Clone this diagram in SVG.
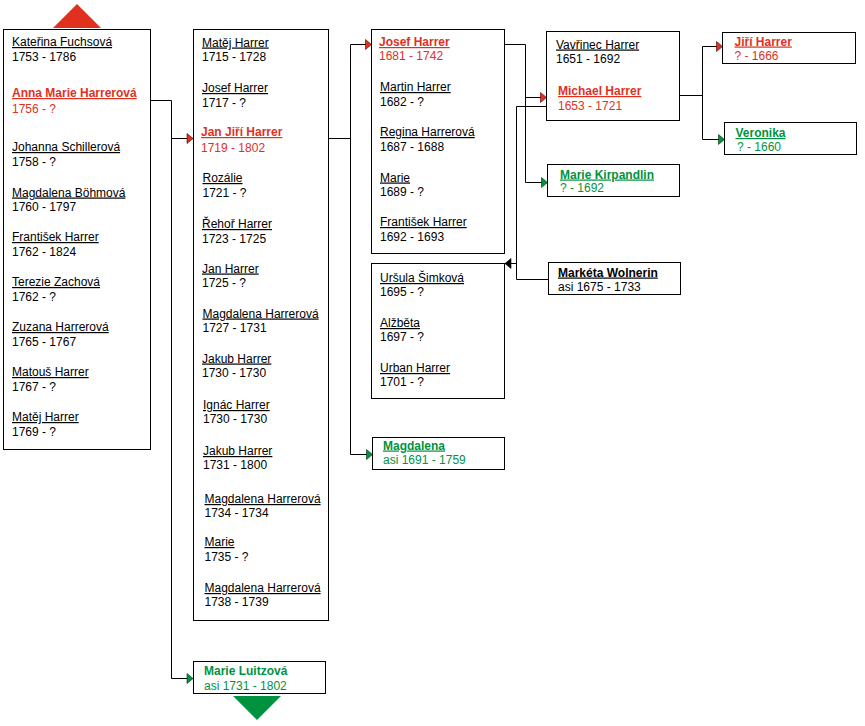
<svg xmlns="http://www.w3.org/2000/svg" width="865" height="726" viewBox="0 0 865 726">
<style>
.box{fill:#fff;stroke:#000;stroke-width:1}
text{font-family:"Liberation Sans",Arial,sans-serif;font-size:12px;fill:#000}
.u{text-decoration:underline}
.b{font-weight:bold}
.r{fill:#e0301e}
.g{fill:#00923f}
.ln{fill:none;stroke:#000;stroke-width:1}
</style>
<defs>
<marker id="aRed" markerUnits="userSpaceOnUse" markerWidth="7" markerHeight="11" refX="6" refY="5" orient="auto" viewBox="0 0 7 11" overflow="visible"><path d="M0,0 L6,5 L0,10 Z" fill="#e0301e" stroke="#400" stroke-width="0.6"/></marker>
<marker id="aGrn" markerUnits="userSpaceOnUse" markerWidth="7" markerHeight="11" refX="6" refY="5" orient="auto" viewBox="0 0 7 11" overflow="visible"><path d="M0,0 L6,5 L0,10 Z" fill="#00923f" stroke="#030" stroke-width="0.6"/></marker>
<marker id="aBlk" markerUnits="userSpaceOnUse" markerWidth="7" markerHeight="11" refX="6" refY="5" orient="auto" viewBox="0 0 7 11" overflow="visible"><path d="M0,0 L6,5 L0,10 Z" fill="#000" stroke="#000" stroke-width="0.6"/></marker>
</defs>
<rect width="865" height="726" fill="#fff"/>

<g id="connectors">
<path class="ln" d="M151,100.5 H171.5 V678.5"/>
<path class="ln" d="M171.5,138.5 H193" marker-end="url(#aRed)"/>
<path class="ln" d="M171.5,678.5 H193" marker-end="url(#aGrn)"/>
<path class="ln" d="M328.5,138.5 H350.5 M350.5,44.5 V454.5"/>
<path class="ln" d="M350.5,44.5 H371.5" marker-end="url(#aRed)"/>
<path class="ln" d="M350.5,454.5 H372.5" marker-end="url(#aGrn)"/>
<path class="ln" d="M504.5,44.5 H525.5 V182.5"/>
<path class="ln" d="M525.5,97.5 H546.5" marker-end="url(#aRed)"/>
<path class="ln" d="M525.5,182.5 H547.5" marker-end="url(#aGrn)"/>
<path class="ln" d="M548.5,279.5 H516.5 V106.5 H546.5"/>
<path class="ln" d="M516.5,263.5 H505" marker-end="url(#aBlk)"/>
<path class="ln" d="M679.5,95.5 H702.5 M702.5,46.5 V139.5"/>
<path class="ln" d="M702.5,46.5 H722.5" marker-end="url(#aRed)"/>
<path class="ln" d="M702.5,139.5 H724.5" marker-end="url(#aGrn)"/>
</g>

<g id="nav-up"><polygon points="53,28 77,4 101,28" fill="#e0301e"/></g>
<g id="nav-down"><polygon points="233,696 281,696 257,720" fill="#00923f"/></g>

<g id="siblings-1750s">
<rect class="box" x="3.5" y="29.5" width="147" height="420"/>
<text class="u" x="12" y="46">Kateřina Fuchsová</text><text x="12" y="61">1753 - 1786</text>
<text class="u b r" x="12" y="97">Anna Marie Harrerová</text><text class="r" x="12" y="113">1756 - ?</text>
<text class="u" x="12" y="151">Johanna Schillerová</text><text x="12" y="166">1758 - ?</text>
<text class="u" x="12" y="196.5">Magdalena Böhmová</text><text x="12" y="211">1760 - 1797</text>
<text class="u" x="12" y="241">František Harrer</text><text x="12" y="256">1762 - 1824</text>
<text class="u" x="12" y="286">Terezie Zachová</text><text x="12" y="301">1762 - ?</text>
<text class="u" x="12" y="331">Zuzana Harrerová</text><text x="12" y="346">1765 - 1767</text>
<text class="u" x="12" y="376">Matouš Harrer</text><text x="12" y="391">1767 - ?</text>
<text class="u" x="12" y="421">Matěj Harrer</text><text x="12" y="436">1769 - ?</text>
</g>

<g id="siblings-1710s">
<rect class="box" x="193.5" y="29.5" width="135" height="591"/>
<text class="u" x="202" y="46.5">Matěj Harrer</text><text x="202" y="61">1715 - 1728</text>
<text class="u" x="202" y="92">Josef Harrer</text><text x="202" y="106.5">1717 - ?</text>
<text class="u b r" x="201" y="136">Jan Jiří Harrer</text><text class="r" x="201" y="152">1719 - 1802</text>
<text class="u" x="202.5" y="182">Rozálie</text><text x="202.5" y="197">1721 - ?</text>
<text class="u" x="202" y="228">Řehoř Harrer</text><text x="202" y="242.5">1723 - 1725</text>
<text class="u" x="202" y="272.5">Jan Harrer</text><text x="202" y="287">1725 - ?</text>
<text class="u" x="202.5" y="317.5">Magdalena Harrerová</text><text x="202.5" y="332">1727 - 1731</text>
<text class="u" x="202" y="362.5">Jakub Harrer</text><text x="202" y="377">1730 - 1730</text>
<text class="u" x="203" y="409">Ignác Harrer</text><text x="203" y="423">1730 - 1730</text>
<text class="u" x="203" y="455">Jakub Harrer</text><text x="203" y="469">1731 - 1800</text>
<text class="u" x="204.5" y="503">Magdalena Harrerová</text><text x="204.5" y="516.5">1734 - 1734</text>
<text class="u" x="204.5" y="546">Marie</text><text x="204.5" y="561">1735 - ?</text>
<text class="u" x="204.5" y="592">Magdalena Harrerová</text><text x="204.5" y="606">1738 - 1739</text>
</g>

<g id="marie-luitzova">
<rect class="box" x="193.5" y="661.5" width="132" height="32"/>
<text class="b g" x="204" y="674.5">Marie Luitzová</text><text class="g" x="204" y="690">asi 1731 - 1802</text>
</g>

<g id="siblings-1680s">
<rect class="box" x="371.5" y="29.5" width="133" height="224"/>
<text class="u b r" x="379" y="46">Josef Harrer</text><text class="r" x="379" y="60">1681 - 1742</text>
<text class="u" x="380" y="91">Martin Harrer</text><text x="380" y="106">1682 - ?</text>
<text class="u" x="380" y="136">Regina Harrerová</text><text x="380" y="151">1687 - 1688</text>
<text class="u" x="380" y="181.5">Marie</text><text x="380" y="196">1689 - ?</text>
<text class="u" x="380" y="226">František Harrer</text><text x="380" y="241">1692 - 1693</text>
</g>

<g id="half-siblings-1690s">
<rect class="box" x="371.5" y="263.5" width="133" height="135"/>
<text class="u" x="380" y="282">Uršula Šimková</text><text x="380" y="296">1695 - ?</text>
<text class="u" x="380" y="327">Alžběta</text><text x="380" y="341">1697 - ?</text>
<text class="u" x="380" y="372">Urban Harrer</text><text x="380" y="386">1701 - ?</text>
</g>

<g id="magdalena">
<rect class="box" x="372.5" y="437.5" width="132" height="32"/>
<text class="u b g" x="383" y="449.5">Magdalena</text><text class="g" x="383" y="463.5">asi 1691 - 1759</text>
</g>

<g id="siblings-1650s">
<rect class="box" x="546.5" y="31.5" width="133" height="89"/>
<text class="u" x="556" y="48.5">Vavřinec Harrer</text><text x="556" y="63">1651 - 1692</text>
<text class="u b r" x="558" y="95">Michael Harrer</text><text class="r" x="558" y="109.5">1653 - 1721</text>
</g>

<g id="marie-kirpandlin">
<rect class="box" x="547.5" y="164.5" width="132" height="32"/>
<text class="u b g" x="560" y="178.5">Marie Kirpandlin</text><text class="g" x="560" y="192">? - 1692</text>
</g>

<g id="marketa-wolnerin">
<rect class="box" x="548.5" y="262.5" width="132" height="32"/>
<text class="u b" x="558" y="276.5">Markéta Wolnerin</text><text x="558" y="291">asi 1675 - 1733</text>
</g>

<g id="jiri-harrer">
<rect class="box" x="722.5" y="32.5" width="133" height="31"/>
<text class="u b r" x="734.5" y="45.5">Jiří Harrer</text><text class="r" x="734.5" y="59.5">? - 1666</text>
</g>

<g id="veronika">
<rect class="box" x="724.5" y="122.5" width="132" height="32"/>
<text class="u b g" x="735.5" y="137">Veronika</text><text class="g" x="737" y="151">? - 1660</text>
</g>
</svg>
